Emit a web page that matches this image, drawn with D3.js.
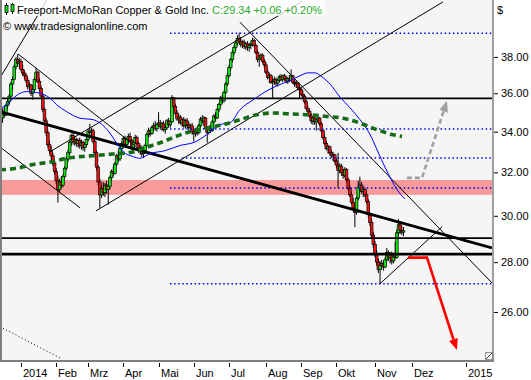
<!DOCTYPE html>
<html><head><meta charset="utf-8">
<script src="https://cdn.jsdelivr.net/npm/d3@7"></script>
<style>html,body{margin:0;padding:0;background:#fff;}svg{display:block;font-family:"Liberation Sans",Arial,sans-serif;}</style>
</head><body><svg id="c" width="531" height="380"></svg>
<script>
// ---------- DATA ----------
const firstDay = -11; // trading-day index of first candle (0 = 2 Jan 2014)
const openP = [34.70,35.05,34.85,35.35,35.55,35.85,36.50,36.75,37.45,37.85,37.65,
37.74,37.30,37.10,36.95,36.70,36.35,36.45,36.00,36.20,36.75,37.15,36.65,36.25,35.85,35.15,34.55,33.95,33.35,33.05,32.80,32.45,
32.05,31.60,31.20,31.55,31.40,31.80,32.20,32.65,32.95,33.45,33.80,33.50,33.60,33.40,33.55,33.30,33.45,33.20,33.35,
33.60,34.00,33.95,34.05,33.50,32.95,32.25,31.55,30.95,31.25,31.05,31.40,31.20,31.35,31.75,32.05,31.95,32.40,32.80,32.65,33.15,
33.40,33.65,33.35,33.60,33.75,33.55,33.20,33.45,33.70,33.40,33.10,33.20,32.90,33.05,33.30,33.85,34.05,33.90,34.20,34.30,34.15,
34.35,34.45,34.25,34.40,34.10,34.20,34.55,34.35,34.50,35.75,35.30,34.95,34.65,34.75,34.45,34.60,34.30,34.55,34.35,34.20,34.30,
34.00,33.90,34.10,33.95,34.30,34.65,34.55,34.70,34.15,33.95,34.20,34.05,34.50,34.80,34.70,35.15,35.40,35.75,35.60,36.05,36.50,
36.95,37.40,37.85,38.25,38.55,38.80,39.05,38.90,38.70,38.85,38.60,38.75,38.55,38.65,38.70,38.95,38.65,38.25,37.85,37.95,38.10,37.75,
37.55,37.15,36.85,36.95,36.60,36.65,36.75,36.55,36.70,36.90,36.75,36.95,36.80,36.65,36.80,36.70,36.95,36.60,36.50,36.55,36.30,
36.20,35.95,35.85,35.55,35.20,35.05,34.80,34.55,34.70,34.50,34.60,34.70,34.40,34.05,33.70,33.40,33.15,33.25,32.95,32.80,32.85,
32.55,32.35,32.10,32.30,32.00,31.85,32.15,31.65,31.25,30.95,30.60,30.35,30.15,30.80,31.30,31.40,31.10,31.20,30.95,30.65,30.05,29.70,29.15,
28.75,28.35,28.00,27.70,27.85,27.95,27.80,28.10,28.40,28.20,28.30,28.05,28.25,28.20,29.25,29.60,29.35,29.28];
const highP = [35.20,35.25,35.45,35.70,35.95,36.60,36.90,37.60,38.00,38.15,37.95,
37.90,37.55,37.25,37.10,36.85,36.60,36.50,36.30,36.85,37.40,37.20,36.80,36.40,35.95,35.25,34.70,34.10,33.55,33.30,32.95,32.60,
32.20,31.85,31.70,31.80,31.90,32.30,32.75,33.10,33.55,33.90,33.95,33.75,33.70,33.65,33.70,33.60,33.55,33.45,33.70,
34.15,34.40,34.20,34.15,33.60,33.05,32.35,31.70,31.40,31.55,31.50,31.60,31.45,31.85,32.15,32.30,32.50,32.90,33.05,33.25,33.50,
33.75,33.80,33.70,33.90,33.95,33.65,33.55,33.85,33.80,33.50,33.35,33.30,33.15,33.40,33.95,34.20,34.15,34.30,34.45,34.55,34.45,
35.00,34.60,34.50,34.55,34.35,34.65,34.70,34.60,35.90,35.80,35.45,35.10,34.90,34.85,34.70,34.75,34.65,34.70,34.50,34.40,34.45,
34.15,34.20,34.25,34.40,34.75,34.85,34.80,34.75,34.25,34.30,34.35,34.60,34.90,35.00,35.25,35.50,35.85,35.95,36.15,36.60,37.10,
37.55,37.95,38.40,38.70,38.95,39.25,39.40,39.15,38.95,39.00,38.85,38.90,38.80,38.90,39.10,39.05,38.75,38.40,38.05,38.20,38.20,37.90,
37.70,37.30,37.10,37.05,36.80,36.90,36.85,36.80,37.00,37.05,37.00,37.05,36.95,36.90,37.00,37.30,37.00,36.75,36.70,36.60,36.45,
36.30,36.15,35.95,35.65,35.35,35.15,34.95,34.80,34.85,34.65,34.80,34.75,34.50,34.15,33.80,33.55,33.35,33.30,33.10,33.00,32.90,
32.70,32.95,32.45,32.40,32.15,32.25,32.20,31.75,31.40,31.10,30.80,30.55,30.90,31.60,31.80,31.55,31.35,31.30,31.05,30.75,30.15,29.85,29.30,
28.90,28.50,28.15,28.05,28.10,28.05,28.20,28.60,28.50,28.40,28.45,28.30,28.85,29.40,29.85,29.75,29.55,29.50];
const lowP = [34.45,34.70,34.80,35.15,35.40,35.80,36.20,36.70,37.30,37.50,37.40,
37.20,36.95,36.80,36.55,36.20,36.05,35.85,35.65,36.10,36.60,36.55,36.10,35.70,35.00,34.45,33.80,33.20,32.90,32.60,32.30,31.90,
31.45,30.60,31.05,31.25,31.30,31.70,32.10,32.50,32.85,33.30,33.35,33.30,33.25,33.20,33.15,33.10,33.05,33.00,33.25,
33.50,33.80,33.70,33.40,32.85,32.10,31.40,30.35,30.80,30.90,30.85,31.00,30.50,31.20,31.60,31.80,31.90,32.30,32.50,32.55,32.95,
33.20,33.25,33.20,33.40,33.45,33.10,33.00,33.35,33.30,32.95,32.85,32.75,32.70,32.90,33.25,33.70,33.75,33.85,34.00,34.05,34.00,
34.25,34.10,34.05,34.00,33.90,34.10,34.25,34.20,34.45,35.15,34.85,34.55,34.40,34.35,34.25,34.20,34.15,34.20,34.05,33.95,33.85,
33.50,33.75,33.80,33.85,34.20,34.40,34.30,34.05,33.45,33.85,33.95,34.00,34.40,34.55,34.65,35.00,35.30,35.45,35.50,35.95,36.40,
36.85,37.25,37.70,38.10,38.35,38.65,38.80,38.55,38.50,38.45,38.40,38.35,38.30,38.45,38.60,38.55,38.15,37.70,37.45,37.80,37.65,37.40,
37.05,36.75,36.55,36.50,35.75,36.45,36.40,36.35,36.60,36.65,36.60,36.70,36.55,36.50,36.60,36.65,36.50,36.35,36.30,36.15,35.75,
35.85,35.70,35.45,35.10,34.90,34.70,34.40,34.35,34.35,34.05,34.45,34.30,33.95,33.60,33.30,33.05,32.90,32.85,32.70,32.55,32.45,
32.20,31.25,31.95,31.85,31.70,31.75,31.55,31.15,30.85,30.50,30.20,29.50,30.05,30.70,31.10,31.00,30.85,30.85,30.55,29.95,29.55,29.05,28.60,
28.20,27.85,27.55,27.10,27.70,27.65,27.75,28.00,28.05,27.95,27.90,27.95,28.10,28.15,29.10,29.20,29.15,29.10];
const closeP = [35.05,34.85,35.35,35.55,35.85,36.50,36.75,37.45,37.85,37.65,37.74,
37.30,37.10,36.95,36.70,36.35,36.45,36.00,36.20,36.75,37.15,36.65,36.25,35.85,35.15,34.55,33.95,33.35,33.05,32.80,32.45,32.05,
31.60,31.20,31.55,31.40,31.80,32.20,32.65,32.95,33.45,33.80,33.50,33.60,33.40,33.55,33.30,33.45,33.20,33.35,33.60,
34.00,33.95,34.05,33.50,32.95,32.25,31.55,30.95,31.25,31.05,31.40,31.20,31.35,31.75,32.05,31.95,32.40,32.80,32.65,33.15,33.40,
33.65,33.35,33.60,33.75,33.55,33.20,33.45,33.70,33.40,33.10,33.20,32.90,33.05,33.30,33.85,34.05,33.90,34.20,34.30,34.15,34.35,
34.45,34.25,34.40,34.10,34.20,34.55,34.35,34.50,35.75,35.30,34.95,34.65,34.75,34.45,34.60,34.30,34.55,34.35,34.20,34.30,34.00,
33.90,34.10,33.95,34.30,34.65,34.55,34.70,34.15,33.95,34.20,34.05,34.50,34.80,34.70,35.15,35.40,35.75,35.60,36.05,36.50,36.95,
37.40,37.85,38.25,38.55,38.80,39.05,38.90,38.70,38.85,38.60,38.75,38.55,38.65,38.70,38.95,38.65,38.25,37.85,37.95,38.10,37.75,37.55,
37.15,36.85,36.95,36.60,36.65,36.75,36.55,36.70,36.90,36.75,36.95,36.80,36.65,36.80,36.70,36.95,36.60,36.50,36.55,36.30,36.20,
35.95,35.85,35.55,35.20,35.05,34.80,34.55,34.70,34.50,34.60,34.70,34.40,34.05,33.70,33.40,33.15,33.25,32.95,32.80,32.85,32.55,
32.35,32.10,32.30,32.00,31.85,32.15,31.65,31.25,30.95,30.60,30.35,30.15,30.80,31.30,31.40,31.10,31.20,30.95,30.65,30.05,29.70,29.15,28.75,
28.35,28.00,27.70,27.85,27.95,27.80,28.10,28.40,28.20,28.30,28.05,28.25,28.20,29.25,29.60,29.35,29.28,29.34];

// month ticks: label, trading-day index
const tickLabels = ["2014","Feb","Mrz","Apr","Mai","Jun","Jul","Aug","Sep","Okt","Nov","Dez","2015"];
const tickDays   = [0,21,40,61,82,103,124,146,167,188,211,233,265];
const priceTicks = [26,28,30,32,34,36,38];

// moving averages [day, price]
const blueMA = [[-12.5,35.21],[-8.5,35.39],[-6.6,35.56],[-0.6,36.00],[3.4,36.09],[11.3,36.00],[17.3,35.73],[21.3,35.39],[27.2,35.03],[35.2,34.69],[43.1,34.61],[47.1,34.44],[53.0,33.93],[57.0,33.42],[61.0,33.00],[66.9,32.76],[70.9,32.68],[76.9,32.91],[85.8,33.05],[94.8,33.31],[103.7,33.48],[110.7,33.85],[118.6,34.36],[124.6,34.45],[130.5,35.13],[138.4,35.65],[145.4,36.07],[152.6,36.41],[160.3,36.68],[166.3,36.95],[171.0,37.11],[175.2,37.11],[179.4,36.89],[184.1,36.51],[190.1,35.80],[196.1,35.23],[202.1,34.61],[208.1,33.85],[212.8,32.99],[216.9,32.26],[221.1,31.60],[224.7,31.13],[228.8,30.76]];
const greenMA = [[-12.5,32.12],[-2.6,32.20],[7.3,32.38],[19.2,32.52],[27.2,32.68],[35.2,32.76],[45.1,32.82],[55.0,32.89],[65.0,32.96],[74.9,33.22],[84.8,33.50],[90.8,33.71],[100.7,34.00],[110.7,34.18],[120.6,34.36],[130.5,34.61],[140.5,34.87],[150.4,34.96],[160.3,34.91],[171.0,34.87],[182.4,34.78],[191.9,34.69],[202.0,34.44],[212.2,34.10],[221.7,33.85],[227.1,33.76]];

// horizontal levels
const solidLevels = [35.73, 29.02, 28.34];
const dottedLevels = [39.37, 34.14, 32.70, 31.27, 27.11];
const dottedFrom   = [88.8, 88.8, 95.9, 88.8, 88.8];
const zoneBand = [30.95, 31.64];

// drawn trend lines [[day,price],[day,price]]
const trendMain = [[-12.5,35.03],[280.7,28.60]];
const thinLines = [
  [[-12.5,36.84],[15.5,41.36]],
  [[-12.5,33.23],[35.2,30.36]],
  [[-1.8,38.17],[70.9,33.10]],
  [[17.3,33.00],[167.2,41.24]],
  [[44.7,30.22],[251.5,41.24]],
  [[130.5,40.02],[280.7,27.15]],
  [[213.9,27.11],[250.9,29.51]]
];
const dottedLine = [[-12.5,25.44],[23.2,24.28]];
const upScenario   = [[230.0,31.74],[239.0,31.74],[253.9,35.60]];
const downScenario = [[230.6,28.19],[242.0,28.19],[259.8,24.57]];

// ---------- DRAW ----------
const W=531,H=380, L=2, R=492, T=0, B=360;
const svg=d3.select("#c");
const x=d3.scaleLinear().domain([0,211]).range([21,375]);
const y=d3.scaleLog().domain([24.17,41.36]).range([361,0]);

svg.append("rect").attr("width",W).attr("height",H).attr("fill","#fff");
svg.append("rect").attr("x",L).attr("y",T).attr("width",R-L).attr("height",B-T).attr("fill","#f5f5f5");
svg.append("defs").append("clipPath").attr("id","clip").append("rect").attr("x",L).attr("y",T).attr("width",R-L).attr("height",B-T);
const pg=svg.append("g").attr("clip-path","url(#clip)");

// zone band
pg.append("rect").attr("x",L).attr("width",R-L).attr("y",y(zoneBand[1])).attr("height",y(zoneBand[0])-y(zoneBand[1])).attr("fill","#f79a9a");

// candles
const candles=openP.map((o,k)=>({i:k+firstDay,o,h:highP[k],l:lowP[k],c:closeP[k]}));
const cg=pg.append("g");
cg.selectAll("line").data(candles).join("line")
  .attr("x1",d=>x(d.i)).attr("x2",d=>x(d.i)).attr("y1",d=>y(d.h)).attr("y2",d=>y(d.l))
  .attr("stroke","#000").attr("stroke-width",1);
cg.selectAll("rect").data(candles).join("rect")
  .attr("x",d=>x(d.i)-1.35).attr("width",2.7)
  .attr("y",d=>y(Math.max(d.o,d.c)))
  .attr("height",d=>Math.max(0.8,y(Math.min(d.o,d.c))-y(Math.max(d.o,d.c))))
  .attr("fill",d=>d.c>=d.o?"#10e810":"#f81010").attr("stroke","#000").attr("stroke-width",0.7);

// solid levels
pg.selectAll(".lvl").data(solidLevels).join("line").attr("class","lvl")
  .attr("x1",L).attr("x2",R).attr("y1",d=>y(d)).attr("y2",d=>y(d))
  .attr("stroke","#000").attr("stroke-width",(d,k)=>k==2?2.8:1.6);
// dotted levels
pg.selectAll(".dl").data(dottedLevels).join("line").attr("class","dl")
  .attr("x1",(d,k)=>x(dottedFrom[k])).attr("x2",R).attr("y1",d=>y(d)).attr("y2",d=>y(d))
  .attr("stroke","#0000ff").attr("stroke-width",1.5).attr("stroke-dasharray","1.5,2.6");

const line=d3.line().x(d=>x(d[0])).y(d=>y(d[1]));
pg.selectAll(".tl").data(thinLines).join("path").attr("class","tl").attr("d",line)
  .attr("fill","none").attr("stroke","#000").attr("stroke-width",1);
pg.append("path").attr("d",line(trendMain)).attr("fill","none").attr("stroke","#000").attr("stroke-width",2.8);
pg.append("path").attr("d",line(dottedLine)).attr("fill","none").attr("stroke","#000").attr("stroke-width",1).attr("stroke-dasharray","1,2.5");

// moving averages
const curve=d3.line().x(d=>x(d[0])).y(d=>y(d[1])).curve(d3.curveMonotoneX);
pg.append("path").attr("d",curve(blueMA)).attr("fill","none").attr("stroke","#0000ff").attr("stroke-width",1);
pg.append("path").attr("d",curve(greenMA)).attr("fill","none").attr("stroke","#156b15").attr("stroke-width",3.6).attr("stroke-dasharray","6,4");

// scenario arrows
function arrow(pts,color,dash){
  const p=pts.map(d=>[x(d[0]),y(d[1])]);
  const a=p[p.length-2], b=p[p.length-1];
  const dx=b[0]-a[0], dy=b[1]-a[1], len=Math.hypot(dx,dy), ux=dx/len, uy=dy/len;
  const hl=11, hw=4.5;
  const base=[b[0]-ux*hl,b[1]-uy*hl];
  const q=p.slice(0,-1).concat([base]);
  pg.append("path").attr("d",d3.line()(q)).attr("fill","none").attr("stroke",color).attr("stroke-width",2.6)
    .attr("stroke-dasharray",dash||null);
  pg.append("path").attr("d",d3.line()([b,[base[0]-uy*hw,base[1]+ux*hw],[base[0]+uy*hw,base[1]-ux*hw]])+"Z").attr("fill",color);
}
arrow(upScenario,"#a0a0a0","5,3");
arrow(downScenario,"#ff0000",null);

// resize grip
svg.append("rect").attr("x",485.5).attr("y",352.5).attr("width",7).attr("height",7).attr("fill","#fff").attr("stroke","#999");
svg.append("line").attr("x1",486).attr("y1",359).attr("x2",492).attr("y2",353).attr("stroke","#333");

// borders
svg.append("line").attr("x1",1).attr("x2",1).attr("y1",0).attr("y2",362).attr("stroke","#808080").attr("stroke-width",2);
svg.append("line").attr("x1",0).attr("x2",494).attr("y1",361).attr("y2",361).attr("stroke","#808080").attr("stroke-width",2);
svg.append("line").attr("x1",493).attr("x2",493).attr("y1",0).attr("y2",362).attr("stroke","#808080").attr("stroke-width",1.5);

// title
svg.append("rect").attr("x",2).attr("y",0).attr("width",323).attr("height",16).attr("fill","#fff").attr("opacity",0.8);
const ic=svg.append("g");
ic.append("line").attr("x1",6.5).attr("x2",6.5).attr("y1",3).attr("y2",15).attr("stroke","#000");
ic.append("rect").attr("x",5).attr("y",5.5).attr("width",3).attr("height",7).attr("fill","#10e810").attr("stroke","#000").attr("stroke-width",0.8);
ic.append("line").attr("x1",12.5).attr("x2",12.5).attr("y1",3).attr("y2",14).attr("stroke","#000");
ic.append("rect").attr("x",11).attr("y",4.5).attr("width",3).attr("height",7).attr("fill","#10e810").attr("stroke","#000").attr("stroke-width",0.8);
const tt=svg.append("text").attr("x",17).attr("y",13.5).attr("font-size",11);
tt.append("tspan").attr("fill","#000").text("Freeport-McMoRan Copper & Gold Inc.");
tt.append("tspan").attr("fill","#2aaa2a").text(" C:29.34 +0.06 +0.20%");
svg.append("text").attr("x",3).attr("y",29.5).attr("font-size",11).attr("fill","#000").text("© www.tradesignalonline.com");

// y axis
const ya=svg.append("g").attr("transform","translate(494,0)")
  .call(d3.axisRight(y).tickValues(priceTicks).tickFormat(d3.format(".2f")).tickSize(4).tickPadding(3));
ya.select(".domain").remove();
ya.attr("font-family",null).attr("font-size",11);
ya.selectAll("text").attr("fill","#000");
svg.append("text").attr("x",497).attr("y",14).attr("font-size",11).text("$");

// x axis
const xa=svg.append("g");
tickDays.forEach((d,k)=>{
  const px=Math.round(x(d))+0.5;
  xa.append("line").attr("x1",px).attr("x2",px).attr("y1",363).attr("y2",367).attr("stroke","#000");
  xa.append("text").attr("x",px+1.5).attr("y",377).attr("font-size",11).attr("fill","#000").text(tickLabels[k]);
});
</script></body></html>
